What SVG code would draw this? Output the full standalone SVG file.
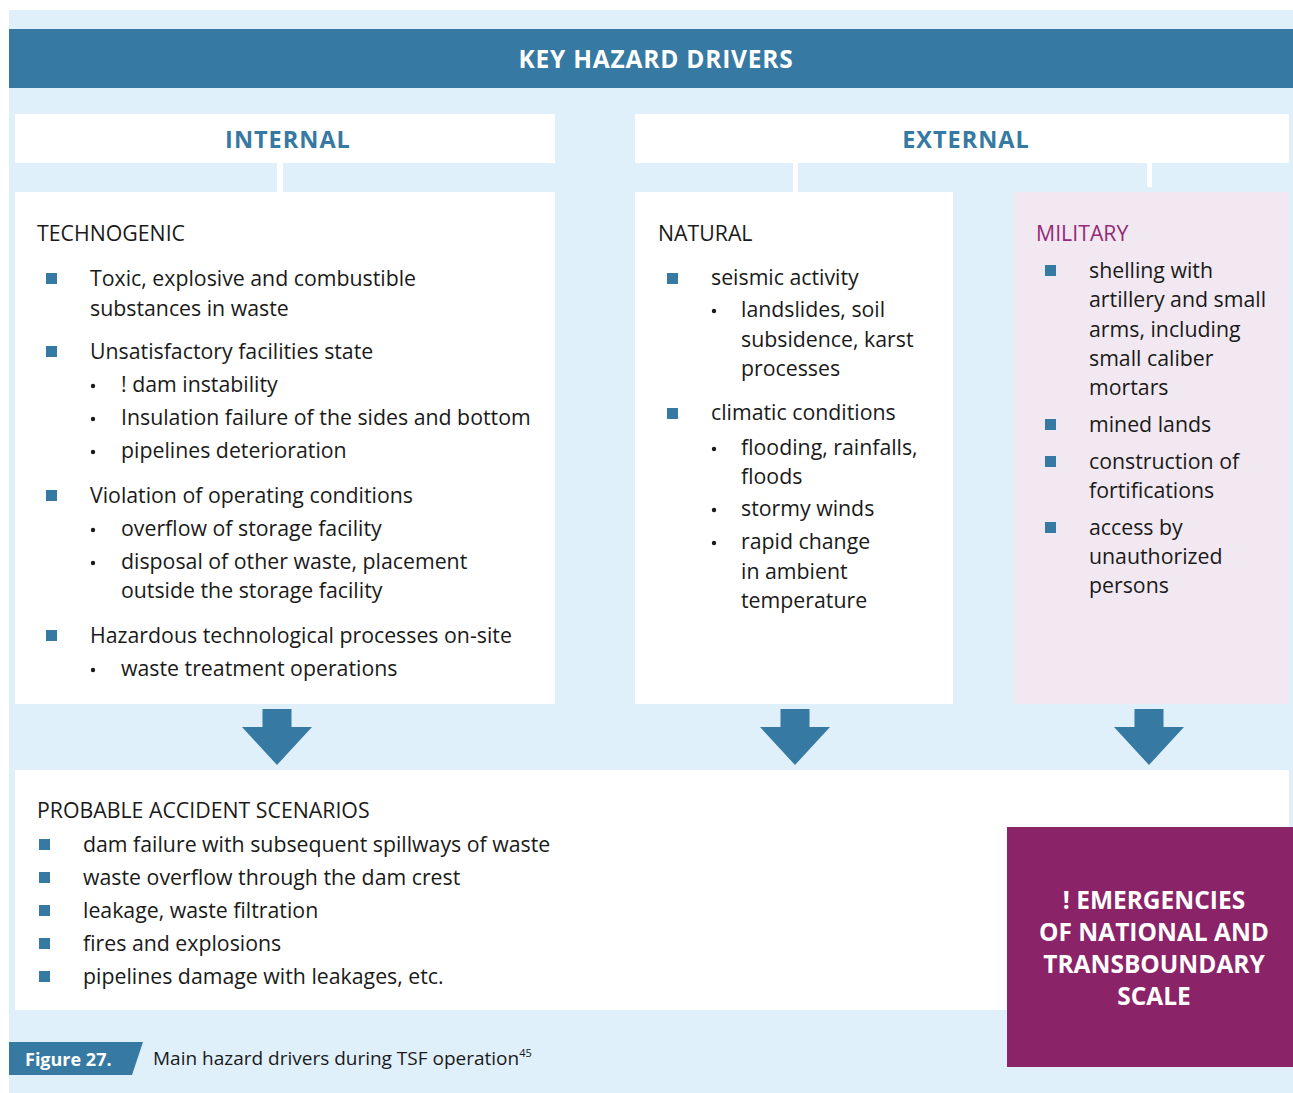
<svg xmlns="http://www.w3.org/2000/svg" width="1293" height="1093" viewBox="0 0 1293 1093">
<style>
text{font-family:"Open Sans","Noto Sans","Liberation Sans",sans-serif;}
.t{font-size:21.3px;fill:#1a1a1a;}
.h{font-size:21.3px;fill:#1a1a1a;}
.mil{font-size:21.3px;fill:#952a78;}
.cat{font-size:23.5px;font-weight:bold;fill:#3679a2;letter-spacing:1px;text-anchor:middle;}
.hdr{font-size:24.5px;font-weight:bold;fill:#ffffff;letter-spacing:0.8px;text-anchor:middle;}
.em{font-size:24.5px;font-weight:bold;fill:#ffffff;text-anchor:middle;}
.sq{fill:#3679a2;}
.dot{fill:#1a1a1a;}
.box{fill:#ffffff;}
.arrow{fill:#3679a2;}
</style>
<defs>
<rect id="sq" class="sq" x="0" y="0" width="11" height="11"/>
<circle id="dot" class="dot" cx="0" cy="0" r="2.2"/>
<polygon id="down" class="arrow" points="-14.5,0 14.5,0 14.5,18 35,18 0,56 -35,18 -14.5,18"/>
</defs>
<rect x="9" y="10" width="1284" height="1083" fill="#dff0fb"/>

<g id="header">
<rect x="9" y="29" width="1284" height="59" fill="#3679a2"/>
<text class="hdr" x="656" y="68">KEY HAZARD DRIVERS</text>
</g>

<g id="internal">
<rect class="box" x="15" y="114" width="540" height="49"/>
<text class="cat" x="288" y="148">INTERNAL</text>
</g>

<g id="external">
<rect class="box" x="635" y="114" width="654" height="49"/>
<text class="cat" x="966" y="148">EXTERNAL</text>
</g>

<g id="connectors">
<rect class="box" x="277" y="163" width="6" height="29"/>
<rect class="box" x="793" y="163" width="5" height="29"/>
<rect class="box" x="1147" y="163" width="5" height="24"/>
<use href="#down" x="277" y="709"/>
<use href="#down" x="795" y="709"/>
<use href="#down" x="1149" y="709"/>
<polygon class="arrow" points="949,892 970,892 970,873 1007,907.5 970,942 970,922 949,922"/>
</g>

<g id="technogenic">
<rect class="box" x="15" y="192" width="540" height="512"/>
<text class="h" x="37" y="241">TECHNOGENIC</text>
<use href="#sq" x="46" y="273"/>
<text class="t" x="90" y="286">Toxic, explosive and combustible</text>
<text class="t" x="90" y="316">substances in waste</text>
<use href="#sq" x="46" y="346"/>
<text class="t" x="90" y="359">Unsatisfactory facilities state</text>
<use href="#dot" x="93" y="386"/>
<text class="t" x="121" y="392">! dam instability</text>
<use href="#dot" x="93" y="419"/>
<text class="t" x="121" y="425">Insulation failure of the sides and bottom</text>
<use href="#dot" x="93" y="452"/>
<text class="t" x="121" y="458">pipelines deterioration</text>
<use href="#sq" x="46" y="490"/>
<text class="t" x="90" y="503">Violation of operating conditions</text>
<use href="#dot" x="93" y="530"/>
<text class="t" x="121" y="536">overflow of storage facility</text>
<use href="#dot" x="93" y="563"/>
<text class="t" x="121" y="569">disposal of other waste, placement</text>
<text class="t" x="121" y="598">outside the storage facility</text>
<use href="#sq" x="46" y="630"/>
<text class="t" x="90" y="643">Hazardous technological processes on-site</text>
<use href="#dot" x="93" y="670"/>
<text class="t" x="121" y="676">waste treatment operations</text>
</g>

<g id="natural">
<rect class="box" x="635" y="192" width="318" height="512"/>
<text class="h" x="658" y="241">NATURAL</text>
<use href="#sq" x="667" y="273"/>
<text class="t" x="711" y="285">seismic activity</text>
<use href="#dot" x="714" y="311"/>
<text class="t" x="741" y="317">landslides, soil</text>
<text class="t" x="741" y="347">subsidence, karst</text>
<text class="t" x="741" y="376">processes</text>
<use href="#sq" x="667" y="408"/>
<text class="t" x="711" y="420">climatic conditions</text>
<use href="#dot" x="714" y="449"/>
<text class="t" x="741" y="455">flooding, rainfalls,</text>
<text class="t" x="741" y="484">floods</text>
<use href="#dot" x="714" y="510"/>
<text class="t" x="741" y="516">stormy winds</text>
<use href="#dot" x="714" y="543"/>
<text class="t" x="741" y="549">rapid change</text>
<text class="t" x="741" y="579">in ambient</text>
<text class="t" x="741" y="608">temperature</text>
</g>

<g id="military">
<rect x="1013" y="192" width="276" height="512" fill="#f2e8f1"/>
<text class="mil" x="1036" y="241">MILITARY</text>
<use href="#sq" x="1045" y="265"/>
<text class="t" x="1089" y="278">shelling with</text>
<text class="t" x="1089" y="307">artillery and small</text>
<text class="t" x="1089" y="337">arms, including</text>
<text class="t" x="1089" y="366">small caliber</text>
<text class="t" x="1089" y="395">mortars</text>
<use href="#sq" x="1045" y="419"/>
<text class="t" x="1089" y="432">mined lands</text>
<use href="#sq" x="1045" y="456"/>
<text class="t" x="1089" y="469">construction of</text>
<text class="t" x="1089" y="498">fortifications</text>
<use href="#sq" x="1045" y="522"/>
<text class="t" x="1089" y="535">access by</text>
<text class="t" x="1089" y="564">unauthorized</text>
<text class="t" x="1089" y="593">persons</text>
</g>

<g id="scenarios">
<rect class="box" x="15" y="770" width="1274" height="240"/>
<text class="h" x="37" y="818">PROBABLE ACCIDENT SCENARIOS</text>
<use href="#sq" x="39" y="839"/>
<text class="t" x="83" y="852">dam failure with subsequent spillways of waste</text>
<use href="#sq" x="39" y="872"/>
<text class="t" x="83" y="885">waste overflow through the dam crest</text>
<use href="#sq" x="39" y="905"/>
<text class="t" x="83" y="918">leakage, waste filtration</text>
<use href="#sq" x="39" y="938"/>
<text class="t" x="83" y="951">fires and explosions</text>
<use href="#sq" x="39" y="971"/>
<text class="t" x="83" y="984">pipelines damage with leakages, etc.</text>
</g>

<g id="emergencies">
<rect x="1007" y="827" width="286" height="240" fill="#8b2369"/>
<text class="em" x="1154" y="909">! EMERGENCIES</text>
<text class="em" x="1154" y="941">OF NATIONAL AND</text>
<text class="em" x="1154" y="973">TRANSBOUNDARY</text>
<text class="em" x="1154" y="1005">SCALE</text>
</g>

<g id="caption">
<polygon points="9,1042 143,1042 132,1075 9,1075" fill="#3679a2"/>
<text x="25" y="1066" font-size="18" font-weight="bold" fill="#ffffff">Figure 27.</text>
<text x="153" y="1065" font-size="19" fill="#1a1a1a">Main hazard drivers during TSF operation<tspan font-size="11" dy="-8">45</tspan></text>
</g>
</svg>
